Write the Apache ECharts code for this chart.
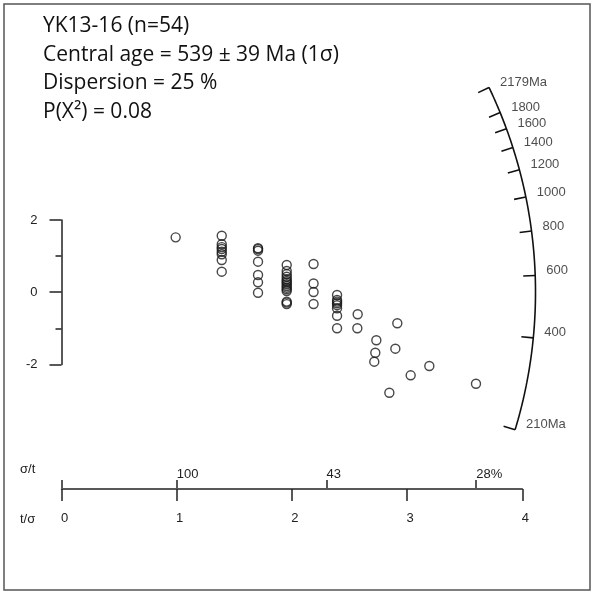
<!DOCTYPE html>
<html><head><meta charset="utf-8">
<script src="https://cdn.jsdelivr.net/npm/echarts@6/dist/echarts.min.js"></script>
<style>html,body{margin:0;padding:0;background:#fff}#c{width:595px;height:594px}</style>
</head><body><div id="c"></div><script>
// ---- data ----
const sampleName = 'YK13-16';
const nGrains = 54;
const centralAge = 539;
const centralErr = 39;
const dispersionPct = 25;
const pChi2 = '0.08';
// precision (t/sigma) of each grain
const tOverSigma = [
  0.991,
  1.391,1.391,1.391,1.391,1.391,1.391,1.391,1.391,
  1.706,1.706,1.706,1.706,1.706,1.706,1.706,
  1.955,1.955,1.955,1.955,1.955,1.955,1.955,1.955,1.955,1.955,1.955,1.955,1.955,1.955,1.955,
  2.188,2.188,2.188,2.188,
  2.392,2.392,2.392,2.392,2.392,2.392,2.392,2.392,
  2.571,2.568,
  2.733,2.724,2.715,
  2.915,2.898,
  3.193,3.031,2.846,
  3.598
];
// standardised estimate
const zStd = [
  1.52,
  1.565,1.327,1.197,1.050,0.892,0.568,1.25,1.12,
  1.197,1.150,0.845,0.476,0.274,-0.014,1.22,
  0.753,0.587,0.429,0.310,0.219,0.125,0.033,-0.26,-0.33,0.50,0.27,0.17,0.08,-0.29,0.36,
  0.781,0.241,0.006,-0.327,
  -0.078,-0.216,-0.307,-0.446,-0.651,-1.0,-0.26,-0.36,
  -0.612,-1.0,
  -1.332,-1.676,-1.925,
  -0.861,-1.565,
  -2.044,-2.302,-2.784,
  -2.535
];
const arcTickAges = [210,400,600,800,1000,1200,1400,1600,1800,2179];
const arcTickLabels = ['210Ma','400','600','800','1000','1200','1400','1600','1800','2179Ma'];
const bottomTickLabels = ['0','1','2','3','4'];
const topTickPos = [1, 2.3, 3.6];
const topTickLabels = ['100','43','28%'];

// ---- geometry (layout constants) ----
const PX_X = 115.2, PX_Y = 36.1;          // pixels per data unit
const ORIGIN_X = 61.5, TOP_Y2 = 220;
const X_EXT = 4.6;                         // hidden x extent of main grid
const ARC_R = 474, TICK_LEN = 12;
const LAMBDA = 1.55125e-4;                 // 238U decay constant per Myr
const zf = t => Math.log(Math.exp(LAMBDA * t) - 1);
const z0 = zf(centralAge);
const Rx = ARC_R / PX_X, Ry = ARC_R / PX_Y;
function arcPoint(t, f) {
  const s = zf(t) - z0;
  const X = 1 / Math.sqrt(1 / (Rx * Rx) + (s * s) / (Ry * Ry));
  return [X * f, s * X * f];
}
const arcLine = [];
const N = 200;
const zA = zf(arcTickAges[0]), zB = zf(arcTickAges[arcTickAges.length - 1]);
for (let i = 0; i <= N; i++) {
  const z = zA + (zB - zA) * i / N;
  const t = Math.log(Math.exp(z) + 1) / LAMBDA;
  arcLine.push(arcPoint(t, 1));
}
const tickSegs = [];
arcTickAges.forEach(a => {
  tickSegs.push(arcPoint(a, 1));
  tickSegs.push(arcPoint(a, 1 - TICK_LEN / ARC_R));
  tickSegs.push(['-', '-']);
});
const labelPts = arcTickAges.map((a, i) => ({ name: arcTickLabels[i], value: arcPoint(a, 1) }));

const FONT = 'Liberation Sans, Arial, sans-serif';
const INK = '#222';

const chart = echarts.init(document.getElementById('c'), null, { renderer: 'canvas' });
chart.setOption({
  backgroundColor: '#fff',
  animation: false,
  title: {
    left: 43, top: 12, padding: 0,
    text: [
      `${sampleName} (n=${nGrains})`,
      `Central age = ${centralAge} ± ${centralErr} Ma (1σ)`,
      `Dispersion = ${dispersionPct} %`,
      `P(X²) = ${pChi2}`
    ].join('\n'),
    textStyle: { fontFamily: 'Open Sans', fontSize: 21, fontWeight: 'normal', color: '#111', lineHeight: 28.5 }
  },
  graphic: [
    { type: 'rect', shape: { x: 4, y: 4, width: 586, height: 586 }, style: { fill: 'none', stroke: '#555', lineWidth: 1.5 }, silent: true },
    { type: 'text', left: 20, top: 463, style: { text: 'σ/t', font: '13px Liberation Sans', fill: INK } },
    { type: 'text', left: 20, top: 513, style: { text: 't/σ', font: '13px Liberation Sans', fill: INK } }
  ],
  grid: [
    { left: ORIGIN_X, top: TOP_Y2, width: X_EXT * PX_X, height: 4 * PX_Y },
    { left: ORIGIN_X, top: 488, width: 4 * PX_X, height: 1 }
  ],
  xAxis: [
    { gridIndex: 0, type: 'value', min: 0, max: X_EXT, show: false },
    { gridIndex: 1, type: 'value', min: 0, max: 4, interval: 1, position: 'bottom',
      axisLine: { show: true, lineStyle: { color: INK, width: 1.5 } },
      axisTick: { show: true, length: 12, lineStyle: { color: INK, width: 1.5 } },
      axisLabel: { margin: 23, fontFamily: FONT, fontSize: 13, color: INK, padding: [0,0,0,6],
        formatter: v => bottomTickLabels[Math.round(v)] },
      splitLine: { show: false } },
    { gridIndex: 1, type: 'value', min: 0, max: 4, position: 'top',
      axisLine: { show: false },
      axisTick: { show: true, length: 8, customValues: [0].concat(topTickPos), lineStyle: { color: INK, width: 1.5 } },
      axisLabel: { show: true, customValues: topTickPos, margin: 7, align: 'left', fontFamily: FONT, fontSize: 13, color: INK,
        formatter: v => { const i = topTickPos.indexOf(v); return i >= 0 ? topTickLabels[i] : ''; } },
      splitLine: { show: false } }
  ],
  yAxis: [
    { gridIndex: 0, type: 'value', min: -2, max: 2, interval: 2,
      axisLine: { show: true, lineStyle: { color: INK, width: 1.5 } },
      axisTick: { show: true, length: 12, lineStyle: { color: INK, width: 1.5 } },
      minorTick: { show: true, splitNumber: 2, length: 6, lineStyle: { color: INK, width: 1.5 } },
      axisLabel: { margin: 24, fontFamily: FONT, fontSize: 13, color: INK },
      splitLine: { show: false }, minorSplitLine: { show: false } },
    { gridIndex: 1, type: 'value', show: false }
  ],
  series: [
    { type: 'line', xAxisIndex: 0, yAxisIndex: 0, data: arcLine, showSymbol: false, clip: false, smooth: false,
      lineStyle: { color: '#111', width: 1.6 }, silent: true },
    { type: 'line', xAxisIndex: 0, yAxisIndex: 0, data: tickSegs, showSymbol: false, clip: false, connectNulls: false,
      lineStyle: { color: '#111', width: 1.6 }, silent: true },
    { type: 'scatter', xAxisIndex: 0, yAxisIndex: 0, data: labelPts, symbolSize: 0, clip: false,
      label: { show: true, position: 'right', distance: 11, offset: [0, -5], formatter: p => p.name,
        fontFamily: FONT, fontSize: 13, color: INK } },
    { type: 'scatter', xAxisIndex: 0, yAxisIndex: 0, clip: false,
      data: tOverSigma.map((x, i) => [x, zStd[i]]),
      symbol: 'circle', symbolSize: 9,
      itemStyle: { color: 'rgba(0,0,0,0)', borderColor: '#1a1a1a', borderWidth: 1.4 } }
  ]
});
</script></body></html>
